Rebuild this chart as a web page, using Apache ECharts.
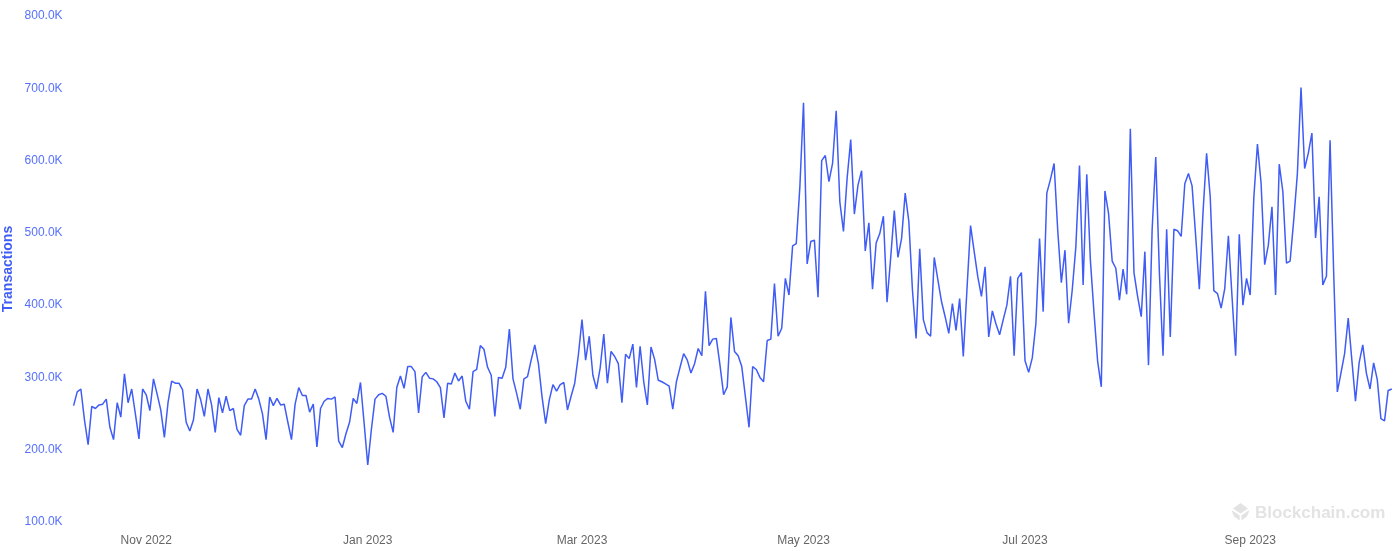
<!DOCTYPE html>
<html>
<head>
<meta charset="utf-8">
<style>html,body{margin:0;padding:0;background:#fff}#c{width:1397px;height:551px}</style>
<script src="https://cdn.jsdelivr.net/npm/echarts@6/dist/echarts.min.js"></script>
</head>
<body>
<div id="c"></div>
<script>
const startDay = '2022-10-12';
const seriesName = 'Transactions';
const monthTicks = ['2022-11-01','2023-01-01','2023-03-01','2023-05-01','2023-07-01','2023-09-01'];
const monthLabels = ['Nov 2022','Jan 2023','Mar 2023','May 2023','Jul 2023','Sep 2023'];
// daily values, thousands of transactions
const valuesK = [
261,280,284,241,207,260,257,262,263,270,231,214,265,245,305,265,284,250,215,284,
276,254,298,277,255,217,265,295,292,292,283,238,226,241,284,269,246,284,262,224,
272,251,274,254,257,228,220,261,270,270,284,270,250,214,273,261,271,262,263,238,
214,263,286,275,275,252,263,204,257,267,271,270,273,212,203,222,238,271,264,293,
237,179,228,270,276,278,274,245,224,286,302,285,315,315,308,251,301,307,299,298,
294,286,244,292,291,306,295,302,267,256,308,311,344,339,314,303,246,300,299,314,
367,298,278,256,298,301,324,345,319,273,236,269,290,281,290,293,255,274,292,331,
380,324,357,303,284,313,360,292,336,329,319,265,332,326,346,286,343,294,262,342,
325,296,294,291,288,256,294,314,333,324,306,319,340,330,419,344,353,354,317,276,
287,383,336,330,315,273,231,315,311,300,294,351,353,430,357,368,437,414,482,485,
564,680,457,488,490,411,600,607,571,596,669,543,502,575,629,526,566,586,475,514,
422,486,499,523,404,465,531,466,492,555,516,421,354,478,380,362,357,466,435,405,
384,361,402,365,409,329,421,510,474,439,412,453,356,392,374,359,380,400,440,330,
437,445,323,307,327,375,492,391,555,574,596,504,431,476,375,421,481,593,428,581,
462,389,322,287,558,527,461,451,407,450,415,644,445,412,384,474,317,504,605,445,
330,505,356,505,503,495,568,582,565,495,422,527,610,550,420,416,396,423,496,412,
330,498,400,437,414,548,623,569,456,483,536,414,595,557,458,461,518,582,701,589,
610,638,493,550,428,440,628,444,280,306,333,382,324,267,320,345,306,284,320,297,
243,240,282,284
];
const DAY = 86400000;
const t0 = Date.parse(startDay + 'T00:00:00Z');
const tickTimes = monthTicks.map(d => Date.parse(d + 'T00:00:00Z'));
const chart = echarts.init(document.getElementById('c'), null, {renderer:'canvas'});
const blue = '#3f5cf6';
const font = '"Liberation Sans", Arial, Helvetica, sans-serif';
chart.setOption({
  animation:false,
  backgroundColor:'#fff',
  grid:{left:73.6,right:5.2,top:16,bottom:29,containLabel:false,outerBoundsMode:'none'},
  xAxis:{
    type:'value',
    min:t0,
    max:t0 + (valuesK.length-1)*DAY,
    axisLine:{show:false},
    axisTick:{show:false},
    splitLine:{show:false},
    axisLabel:{
      customValues:tickTimes,
      color:'#666',fontFamily:font,fontSize:12,margin:13,hideOverlap:false,
      formatter:v => monthLabels[tickTimes.indexOf(+v)] || ''
    }
  },
  yAxis:{
    type:'value',min:100,max:800,interval:100,
    name:seriesName,nameLocation:'middle',nameGap:58,nameMoveOverlap:false,
    nameTextStyle:{color:blue,fontFamily:font,fontSize:14,fontWeight:'bold'},
    axisLine:{show:false},axisTick:{show:false},splitLine:{show:false},
    axisLabel:{color:'#5570fb',fontFamily:font,fontSize:12,margin:11,formatter:v => v.toFixed(1)+'K'}
  },
  series:[{
    name:seriesName,type:'line',showSymbol:false,smooth:false,
    lineStyle:{color:blue,width:1.5},
    data:valuesK.map((v,i)=>[t0+i*DAY,v])
  }],
  graphic:[
    {type:'text',left:1255,top:505,silent:true,style:{text:'Blockchain.com',fill:'#e3e3e3',font:'bold 17px '+font}},
    {type:'polygon',silent:true,shape:{points:[[1240.5,503],[1248,508.5],[1240.5,513.5],[1233,508.5]]},style:{fill:'#e3e3e3'}},
    {type:'polygon',silent:true,shape:{points:[[1231.5,510],[1239.7,515.5],[1239.7,520.5],[1234,516.5]]},style:{fill:'#e3e3e3'}},
    {type:'polygon',silent:true,shape:{points:[[1249.5,510],[1241.3,515.5],[1241.3,520.5],[1247,516.5]]},style:{fill:'#e3e3e3'}}
  ]
});
</script>
</body>
</html>
